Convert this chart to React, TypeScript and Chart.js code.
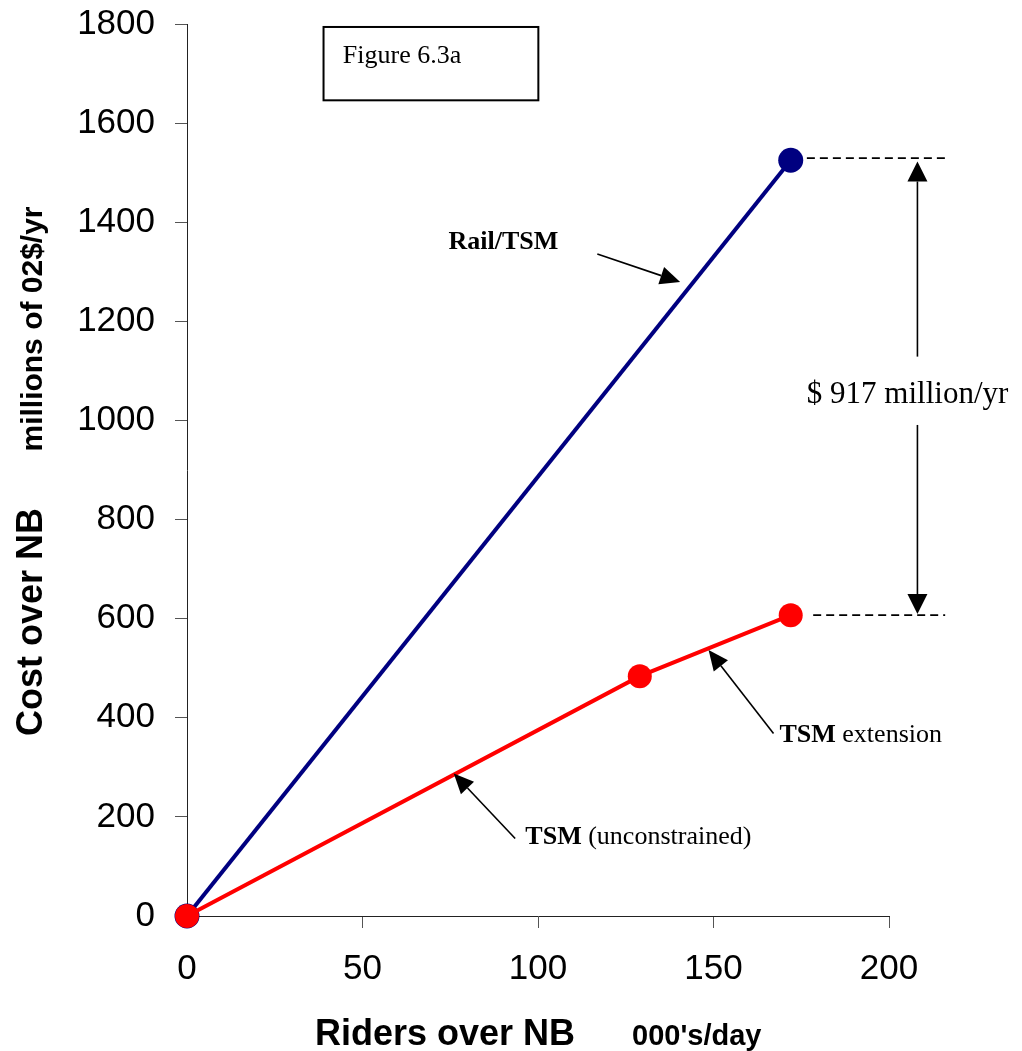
import React, { useEffect, useRef } from "react";
import { Chart, registerables } from "chart.js";

Chart.register(...registerables);

// ---- data ----
const railRiders = [0, 172];
const railCost = [0, 1525];
const tsmRiders = [0, 129, 172];
const tsmCost = [0, 484, 607];
const xTickValues = [0, 50, 100, 150, 200];
const yTickValues = [0, 200, 400, 600, 800, 1000, 1200, 1400, 1600, 1800];

const xTitle = "Riders over NB";
const xSubTitle = "000's/day";
const yTitle = "Cost over NB";
const ySubTitle = "millions of 02$/yr";
const figureLabel = "Figure 6.3a";
const gapLabel = "$ 917 million/yr";

const SANS = "'Liberation Sans', Arial, sans-serif";
const SERIF = "'Liberation Serif', 'Times New Roman', serif";

function arrow(ctx: CanvasRenderingContext2D, x1: number, y1: number, x2: number, y2: number, len = 20, half = 9) {
  const ang = Math.atan2(y2 - y1, x2 - x1);
  const bx = x2 - len * Math.cos(ang);
  const by = y2 - len * Math.sin(ang);
  ctx.beginPath();
  ctx.moveTo(x1, y1);
  ctx.lineTo(bx, by);
  ctx.stroke();
  ctx.beginPath();
  ctx.moveTo(x2, y2);
  ctx.lineTo(bx + half * Math.sin(ang), by - half * Math.cos(ang));
  ctx.lineTo(bx - half * Math.sin(ang), by + half * Math.cos(ang));
  ctx.closePath();
  ctx.fill();
}

function mixedText(ctx: CanvasRenderingContext2D, x: number, y: number, boldPart: string, rest: string, size: number) {
  ctx.textAlign = "left";
  ctx.textBaseline = "alphabetic";
  ctx.font = `bold ${size}px ${SERIF}`;
  ctx.fillText(boldPart, x, y);
  const w = ctx.measureText(boldPart).width;
  if (rest) {
    ctx.font = `${size}px ${SERIF}`;
    ctx.fillText(rest, x + w, y);
  }
}

const annotationPlugin = {
  id: "annots",
  afterDraw(chart: any) {
    const ctx: CanvasRenderingContext2D = chart.ctx;
    const xs = chart.scales.x;
    const ys = chart.scales.y;
    const px = (v: number) => xs.getPixelForValue(v);
    const py = (v: number) => ys.getPixelForValue(v);
    ctx.save();
    ctx.fillStyle = "#000";
    ctx.strokeStyle = "#000";

    // axis titles
    ctx.textBaseline = "alphabetic";
    ctx.textAlign = "left";
    ctx.font = `bold 36px ${SANS}`;
    ctx.fillText(xTitle, 315, 1045);
    ctx.font = `bold 29px ${SANS}`;
    ctx.fillText(xSubTitle, 632, 1045);

    ctx.save();
    ctx.translate(42, 622);
    ctx.rotate(-Math.PI / 2);
    ctx.textAlign = "center";
    ctx.font = `bold 36px ${SANS}`;
    ctx.fillText(yTitle, 0, 0);
    ctx.restore();

    ctx.save();
    ctx.translate(42, 329);
    ctx.rotate(-Math.PI / 2);
    ctx.textAlign = "center";
    ctx.font = `bold 30px ${SANS}`;
    ctx.fillText(ySubTitle, 0, 0);
    ctx.restore();

    // figure box
    ctx.lineWidth = 2;
    const bx1 = px(38.9), by1 = py(1794), bx2 = px(100.1), by2 = py(1646);
    ctx.strokeRect(bx1, by1, bx2 - bx1, by2 - by1);
    ctx.font = `26px ${SERIF}`;
    ctx.textAlign = "left";
    ctx.fillText(figureLabel, px(44.4), py(1721));

    // Rail/TSM label + arrow
    ctx.lineWidth = 1.6;
    mixedText(ctx, px(74.5), py(1346), "Rail/TSM", "", 26);
    arrow(ctx, px(116.9), py(1335.8), px(140.5), py(1279.3), 20, 9);

    // TSM extension
    mixedText(ctx, px(168.8), py(351.4), "TSM", " extension", 26);
    arrow(ctx, px(167.1), py(368.3), px(148.6), py(536.6), 20, 9);

    // TSM (unconstrained)
    mixedText(ctx, px(96.4), py(146.2), "TSM", " (unconstrained)", 26);
    arrow(ctx, px(93.5), py(156.3), px(76.0), py(287.6), 20, 9);

    // dashed reference lines
    ctx.setLineDash([8, 5]);
    ctx.lineWidth = 1.8;
    ctx.beginPath();
    ctx.moveTo(px(176.6), py(1529.5));
    ctx.lineTo(px(216.9), py(1529.5));
    ctx.moveTo(px(178.4), py(607.2));
    ctx.lineTo(px(216.0), py(607.2));
    ctx.stroke();
    ctx.setLineDash([]);

    // double arrow
    ctx.lineWidth = 1.6;
    const ax = px(208.1);
    arrow(ctx, ax, py(1128.8), ax, py(1522.6), 20, 10);
    arrow(ctx, ax, py(990.9), ax, py(609.2), 20, 10);

    ctx.font = `31px ${SERIF}`;
    ctx.textAlign = "left";
    ctx.fillText(gapLabel, px(176.6), py(1036));

    ctx.restore();
  },
};

export default function App() {
  const ref = useRef<HTMLCanvasElement | null>(null);
  useEffect(() => {
    if (!ref.current) return;
    Chart.defaults.font.family = SANS;
    const chart = new Chart(ref.current, {
      type: "scatter",
      data: {
        datasets: [
          {
            label: "TSM",
            data: tsmRiders.map((x, i) => ({ x, y: tsmCost[i] })),
            showLine: true,
            borderColor: "#FF0000",
            backgroundColor: "#FF0000",
            borderWidth: 4,
            pointRadius: 12,
            pointHoverRadius: 12,
            pointBorderWidth: 0,
            pointBackgroundColor: "#FF0000",
            clip: false as any,
          },
          {
            label: "Rail/TSM",
            data: railRiders.map((x, i) => ({ x, y: railCost[i] })),
            showLine: true,
            borderColor: "#000080",
            backgroundColor: "#000080",
            borderWidth: 4,
            pointRadius: 12.5,
            pointHoverRadius: 12.5,
            pointBorderWidth: 0,
            pointBackgroundColor: "#000080",
            clip: false as any,
          },
        ],
      },
      options: {
        animation: false,
        responsive: false,
        devicePixelRatio: 1,
        events: [],
        layout: { padding: { top: 24, right: 133, bottom: 0, left: 0 } },
        plugins: {
          legend: { display: false },
          tooltip: { enabled: false },
          title: { display: false },
        },
        scales: {
          x: {
            type: "linear",
            min: 0,
            max: 200,
            afterBuildTicks: (s: any) => {
              s.ticks = xTickValues.map((v) => ({ value: v }));
            },
            afterFit: (s: any) => {
              s.height = 135;
              s.paddingLeft = 0;
              s.paddingRight = 0;
            },
            grid: { drawOnChartArea: false, drawTicks: true, tickLength: 12, color: "#555", tickWidth: 1 },
            border: { display: true, color: "#222", width: 1 },
            ticks: {
              color: "#000",
              font: { size: 35, family: SANS },
              padding: 20,
              maxRotation: 0,
              callback: (v: any) => String(v),
            },
          },
          y: {
            type: "linear",
            min: 0,
            max: 1800,
            afterBuildTicks: (s: any) => {
              s.ticks = yTickValues.map((v) => ({ value: v }));
            },
            afterFit: (s: any) => {
              s.width = 187;
              s.paddingTop = 0;
              s.paddingBottom = 0;
            },
            grid: { drawOnChartArea: false, drawTicks: true, tickLength: 12, color: "#555", tickWidth: 1 },
            border: { display: true, color: "#222", width: 1 },
            ticks: {
              color: "#000",
              font: { size: 35, family: SANS },
              padding: 20,
              callback: (v: any) => String(v),
            },
          },
        },
      },
      plugins: [annotationPlugin],
    });
    return () => chart.destroy();
  }, []);
  return (
    <div style={{ position: "absolute", left: 0, top: 0, width: 1022, height: 1051, background: "#fff" }}>
      <canvas ref={ref} width={1022} height={1051} style={{ display: "block" }} />
    </div>
  );
}
